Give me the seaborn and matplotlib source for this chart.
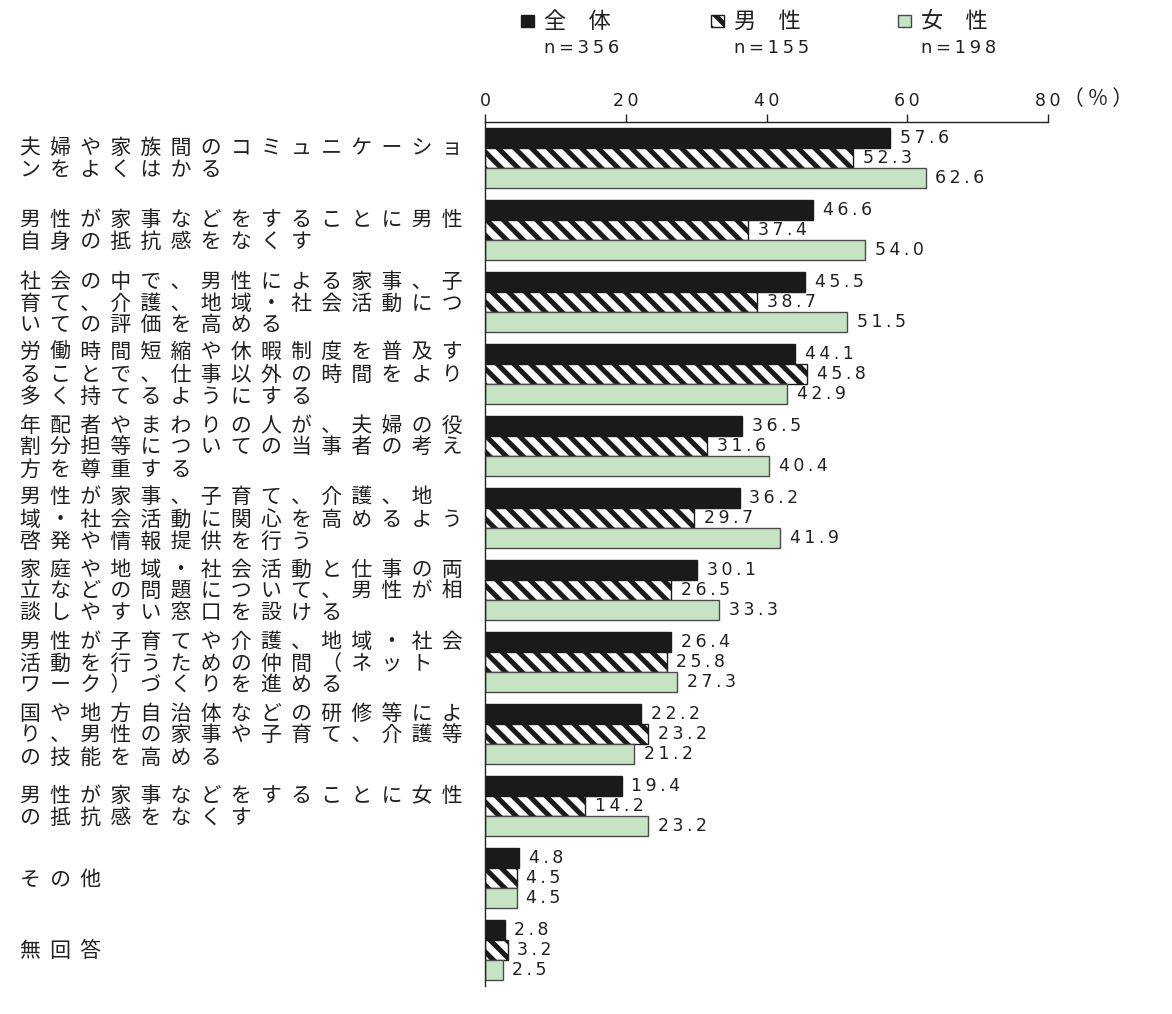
import matplotlib
matplotlib.use("Agg")
import matplotlib.pyplot as plt
import matplotlib.transforms as mtransforms
from matplotlib.patches import Rectangle
import numpy as np
import pandas as pd
import seaborn as sns

# Survey items (each entry is the wrapped lines of one item label)
category_lines = [
    ["夫婦や家族間のコミュニケーショ", "ンをよくはかる"],
    ["男性が家事などをすることに男性", "自身の抵抗感をなくす"],
    ["社会の中で、男性による家事、子", "育て、介護、地域・社会活動につ", "いての評価を高める"],
    ["労働時間短縮や休暇制度を普及す", "ることで、仕事以外の時間をより", "多く持てるようにする"],
    ["年配者やまわりの人が、夫婦の役", "割分担等についての当事者の考え", "方を尊重する"],
    ["男性が家事、子育て、介護、地", "域・社会活動に関心を高めるよう", "啓発や情報提供を行う"],
    ["家庭や地域・社会活動と仕事の両", "立などの問題について、男性が相", "談しやすい窓口を設ける"],
    ["男性が子育てや介護、地域・社会", "活動を行うための仲間（ネット", "ワーク）づくりを進める"],
    ["国や地方自治体などの研修等によ", "り、男性の家事や子育て、介護等", "の技能を高める"],
    ["男性が家事などをすることに女性", "の抵抗感をなくす"],
    ["その他"],
    ["無回答"],
]
categories = ["".join(lines) for lines in category_lines]

groups = ["全体", "男性", "女性"]
group_labels = ["全　体", "男　性", "女　性"]
group_n = [356, 155, 198]

values_all = [57.6, 46.6, 45.5, 44.1, 36.5, 36.2, 30.1, 26.4, 22.2, 19.4, 4.8, 2.8]
values_male = [52.3, 37.4, 38.7, 45.8, 31.6, 29.7, 26.5, 25.8, 23.2, 14.2, 4.5, 3.2]
values_female = [62.6, 54.0, 51.5, 42.9, 40.4, 41.9, 33.3, 27.3, 21.2, 23.2, 4.5, 2.5]

x_ticks = [0, 20, 40, 60, 80]

TEXT = "#231f20"
GREEN = "#c6e4c4"
FACE = ["#1a1a1a", "#ffffff", GREEN]
EDGE = ["#1a1a1a", "#1a1a1a", "#4a4a4a"]
HATCH = [None, "\\\\", None]

sns.set_theme(style="white")
plt.rcParams["font.family"] = ["Noto Sans CJK JP", "DejaVu Sans"]
plt.rcParams["hatch.linewidth"] = 3.6
plt.rcParams["hatch.color"] = "#1a1a1a"
plt.rcParams["text.color"] = TEXT

JP = ["Noto Sans CJK JP", "DejaVu Sans"]


def tracked(s):
    """Spread a short Latin string with thin spaces."""
    return "\u2009".join(s)


def spread(s):
    """Spread a Japanese line with a fixed gap between characters."""
    return "  ".join(s)


df = pd.DataFrame({
    "item": categories * 3,
    "group": np.repeat(groups, len(categories)),
    "pct": values_all + values_male + values_female,
})

fig = plt.figure(figsize=(11.72, 10.14), dpi=100)
W, H = 1172, 1014
ax = fig.add_axes([485 / W, 1 - 986 / H, (1048 - 485) / W, (986 - 122) / H])

sns.barplot(
    data=df, y="item", x="pct", hue="group", order=categories, hue_order=groups,
    orient="h", width=0.82, palette=FACE, saturation=1, legend=False,
    linewidth=1.0, ax=ax,
)

for k, cont in enumerate(ax.containers):
    for patch in cont:
        patch.set_facecolor(FACE[k])
        patch.set_edgecolor(EDGE[k])
        patch.set_linewidth(1.0)
        if HATCH[k]:
            patch.set_hatch(HATCH[k])
    vals = [values_all, values_male, values_female][k]
    ax.bar_label(cont, labels=[tracked(f"{v:.1f}") for v in vals], padding=7,
                 fontsize=12.5, family="DejaVu Sans", color=TEXT)

ax.set_xlim(0, 80)
ax.set_ylim(len(categories) - 0.5, -0.5)
ax.set_xlabel("")
ax.set_ylabel("")

ax.xaxis.tick_top()
ax.set_xticks(x_ticks)
ax.set_xticklabels([tracked(str(t)) for t in x_ticks], family="DejaVu Sans",
                   fontsize=12.5, color=TEXT)
ax.tick_params(axis="x", top=True, bottom=False, direction="out", length=6,
               width=1, color=TEXT, pad=2.5)
ax.tick_params(axis="y", left=False, labelleft=False)
for side in ["right", "bottom"]:
    ax.spines[side].set_visible(False)
for side in ["top", "left"]:
    ax.spines[side].set_visible(True)
    ax.spines[side].set_color(TEXT)
    ax.spines[side].set_linewidth(1.0)

# Wrapped item labels on the left
trans = mtransforms.blended_transform_factory(fig.transFigure, ax.transData)
line_step = 22 / 72
for i, lines in enumerate(category_lines):
    n = len(lines)
    for j, line in enumerate(lines):
        y = i + 0.02 + (j - (n - 1) / 2) * line_step
        ax.text(20 / W, y, spread(line), transform=trans, ha="left", va="center",
                fontsize=15, color=TEXT, family=JP)

fig.text(1063 / W, 1 - 99 / H, "（ % ）", ha="left", va="center", fontsize=15,
         color=TEXT, family=JP)

# Legend: swatch, group name, and sample size
legend_x = [521, 711, 898]
for k in range(3):
    x0 = legend_x[k]
    sw = Rectangle((x0 / W, 1 - 27 / H), 13 / W, 12 / H, transform=fig.transFigure,
                   facecolor=FACE[k], edgecolor=EDGE[k], linewidth=1.0,
                   hatch=HATCH[k])
    fig.add_artist(sw)
    fig.text((x0 + 23) / W, 1 - 21 / H, group_labels[k], ha="left", va="center",
             fontsize=16, color=TEXT, family=JP)
    fig.text((x0 + 61) / W, 1 - 48 / H, tracked(f"n={group_n[k]}"), ha="center",
             va="center", fontsize=13, color=TEXT, family="DejaVu Sans")

fig.savefig("out.png", dpi=100, facecolor="white")
